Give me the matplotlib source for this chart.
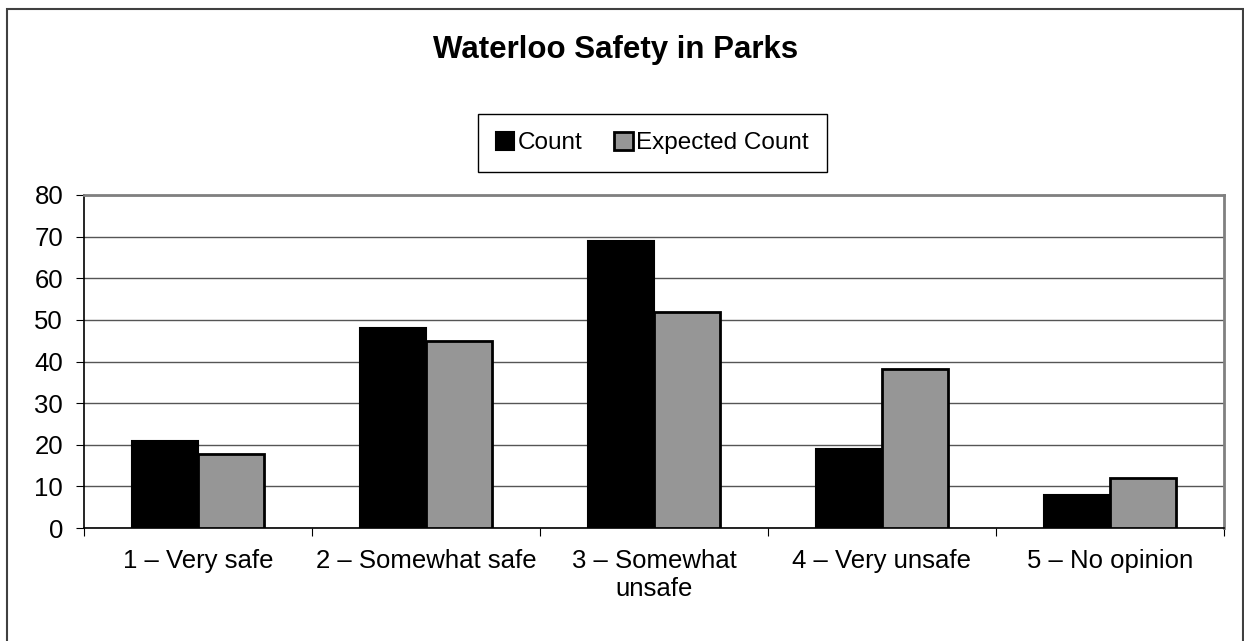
import matplotlib.pyplot as plt
import numpy as np
from matplotlib.patches import Rectangle

categories = ["1 – Very safe", "2 – Somewhat safe", "3 – Somewhat\nunsafe",
              "4 – Very unsafe", "5 – No opinion"]
count = [21, 48, 69, 19, 8]
expected_count = [17.8, 44.9, 51.9, 38.3, 11.9]

plt.rcParams["font.family"] = ["Liberation Sans", "DejaVu Sans"]

fig = plt.figure(figsize=(12.44, 6.41), dpi=100)
fig.patch.set_facecolor("white")

# outer chart border (left/top/right visible)
fig.add_artist(Rectangle((7 / 1244, -0.05), (1243 - 7) / 1244, 1.05 - 9 / 641,
                         transform=fig.transFigure, fill=False,
                         edgecolor="#404040", linewidth=1.5))

ax = fig.add_axes([84 / 1244, 1 - 528 / 641, (1224 - 84) / 1244, (528 - 195) / 641])

x = np.arange(len(categories))
w = 0.29
ax.bar(x - w / 2, count, width=w, color="black", edgecolor="black", linewidth=1.5,
       label="Count", zorder=3)
ax.bar(x + w / 2, expected_count, width=w, color="#969696", edgecolor="black",
       linewidth=2, label="Expected Count", zorder=3)

ax.set_xlim(-0.5, len(categories) - 0.5)
ax.set_ylim(0, 80)
ax.set_yticks(range(0, 81, 10))
ax.yaxis.grid(True, color="#555555", linewidth=1)
ax.set_axisbelow(True)

# ticks sit on category boundaries, labels centred under each group
ax.set_xticks(np.arange(-0.5, len(categories), 1))
ax.set_xticklabels([])
ax.set_xticks(x, minor=True)
ax.set_xticklabels(categories, minor=True, fontsize=18.5, linespacing=1.2)
ax.tick_params(axis="x", which="minor", length=0, pad=15)
ax.tick_params(axis="x", which="major", length=6, direction="out", color="black")
ax.tick_params(axis="y", length=6, direction="out", labelsize=18.5, pad=9)

for side in ["top", "right"]:
    ax.spines[side].set_color("#808080")
    ax.spines[side].set_linewidth(2)
for side in ["left", "bottom"]:
    ax.spines[side].set_color("black")
    ax.spines[side].set_linewidth(1.2)

fig.text(616 / 1244, 1 - 50 / 641, "Waterloo Safety in Parks", ha="center", va="center",
         fontsize=22.5, fontweight="bold")

leg = fig.legend(loc="center", bbox_to_anchor=(652.5 / 1244, 1 - 143 / 641), ncol=2,
                 fontsize=17.5, frameon=True, fancybox=False, edgecolor="black",
                 framealpha=1, handlelength=0.75, handleheight=0.75, handletextpad=0.15,
                 columnspacing=1.3, borderpad=0.75)
leg.get_frame().set_linewidth(1)

plt.savefig("out.png", dpi=100)
plt.close()
